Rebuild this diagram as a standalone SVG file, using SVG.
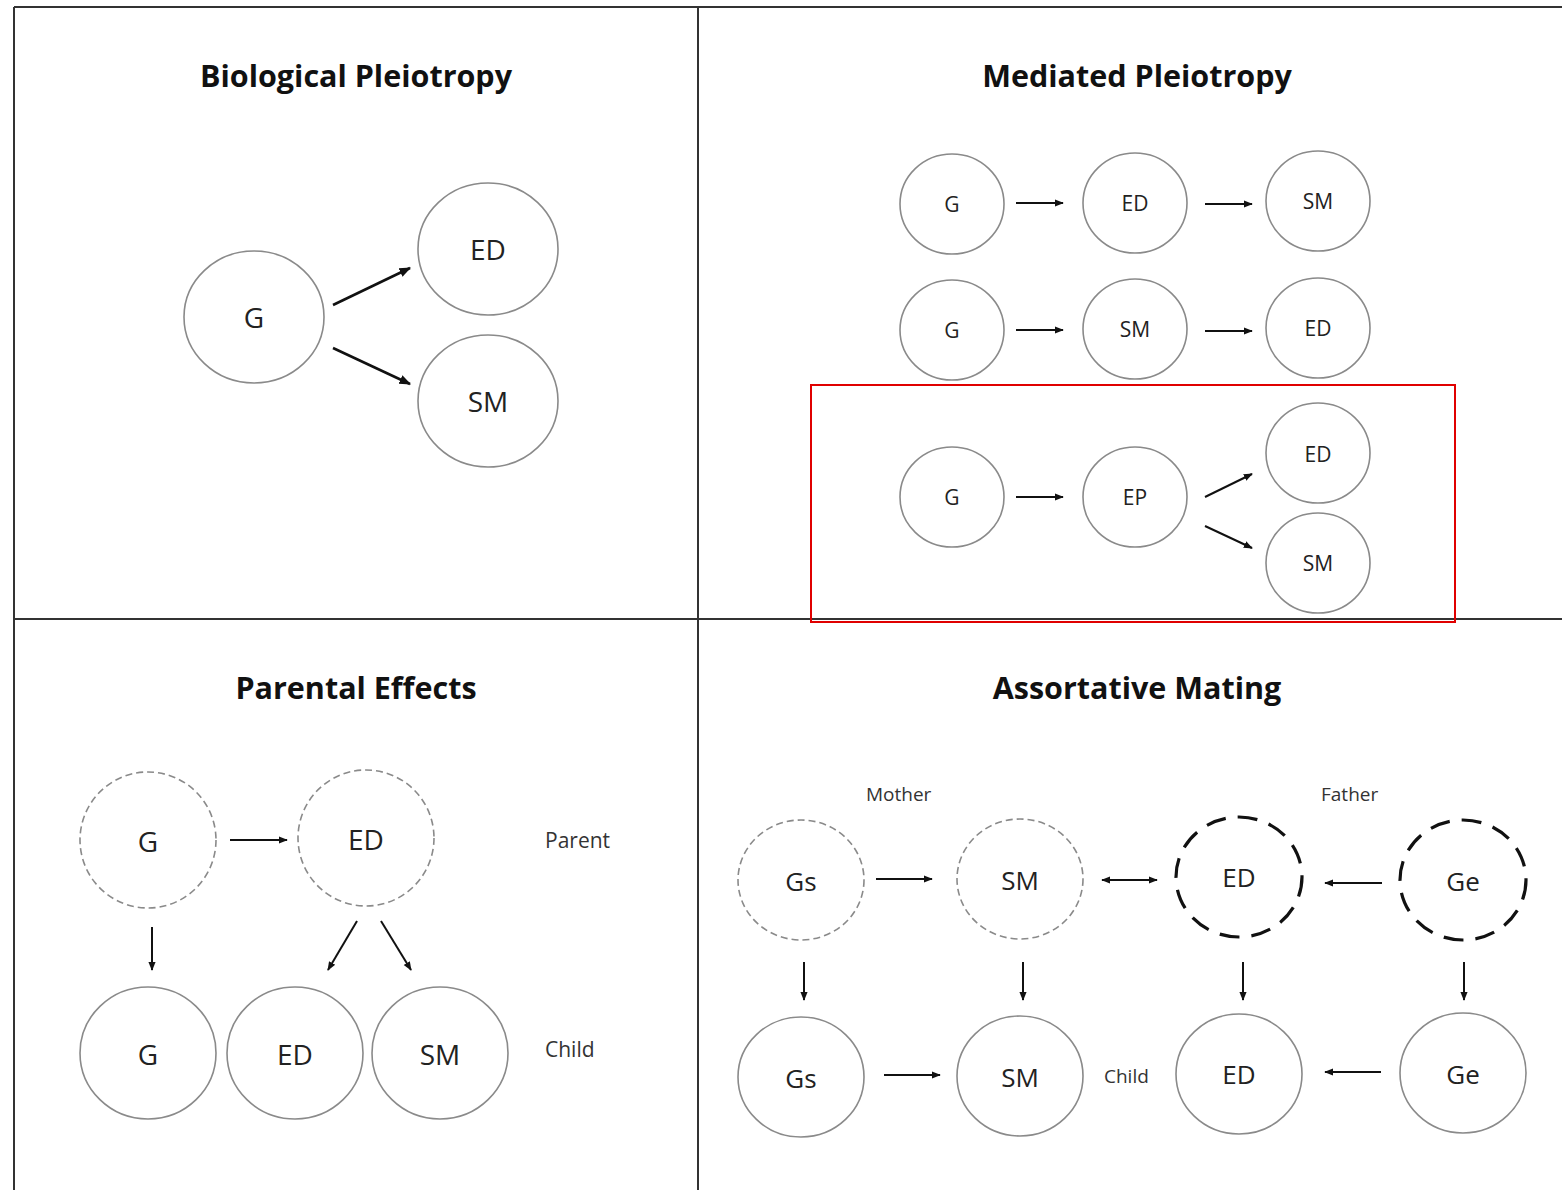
<svg xmlns="http://www.w3.org/2000/svg" width="1562" height="1190" viewBox="0 0 1562 1190">
<style>
.frame{stroke:#333;stroke-width:2;fill:none}
.n{fill:#fff;stroke:#8a8a8a;stroke-width:1.6}
.nd{fill:#fff;stroke:#8a8a8a;stroke-width:1.6;stroke-dasharray:7 4}
.nb{fill:#fff;stroke:#111;stroke-width:3.2;stroke-dasharray:20 12}
.t{font-family:"Open Sans","Liberation Sans",sans-serif;fill:#222;text-anchor:middle;dominant-baseline:central}
.title{font-family:"Open Sans","Liberation Sans",sans-serif;font-weight:bold;font-size:30.5px;fill:#111;text-anchor:middle}
.lab{font-family:"Open Sans","Liberation Sans",sans-serif;fill:#333;dominant-baseline:central}
.a{stroke:#111;stroke-width:2;fill:none;marker-end:url(#ah)}
.a3{stroke:#111;stroke-width:2.6;fill:none;marker-end:url(#ah)}
</style>
<defs>
<marker id="ah" viewBox="0 0 10 10" refX="9" refY="5" markerWidth="4.5" markerHeight="4.5" orient="auto-start-reverse" markerUnits="strokeWidth">
<path d="M0,1 L10,5 L0,9 z" fill="#111"/>
</marker>
</defs>
<rect width="1562" height="1190" fill="#fff"/>
<g id="frame">
<line class="frame" x1="14" y1="7" x2="1562" y2="7"/>
<line class="frame" x1="14" y1="7" x2="14" y2="1190"/>
<line class="frame" x1="698" y1="7" x2="698" y2="1190"/>
<line class="frame" x1="14" y1="619" x2="1562" y2="619"/>
</g>
<g id="titles">
<text class="title" x="356" y="87">Biological Pleiotropy</text>
<text class="title" x="1137" y="87">Mediated Pleiotropy</text>
<text class="title" x="356" y="699">Parental Effects</text>
<text class="title" x="1137" y="699">Assortative Mating</text>
</g>
<rect id="highlight" x="811" y="385" width="644" height="237" fill="none" stroke="#e00000" stroke-width="2"/>
<g id="p1-G"><ellipse class="n" cx="254" cy="317" rx="70" ry="66"/><text class="t" x="254" y="317" font-size="28">G</text></g>
<g id="p1-ED"><ellipse class="n" cx="488" cy="249" rx="70" ry="66"/><text class="t" x="488" y="249" font-size="28">ED</text></g>
<g id="p1-SM"><ellipse class="n" cx="488" cy="401" rx="70" ry="66"/><text class="t" x="488" y="401" font-size="28">SM</text></g>
<g id="p2-r1-G"><ellipse class="n" cx="952" cy="204" rx="52" ry="50"/><text class="t" x="952" y="204" font-size="21">G</text></g>
<g id="p2-r1-ED"><ellipse class="n" cx="1135" cy="203" rx="52" ry="50"/><text class="t" x="1135" y="203" font-size="21">ED</text></g>
<g id="p2-r1-SM"><ellipse class="n" cx="1318" cy="201" rx="52" ry="50"/><text class="t" x="1318" y="201" font-size="21">SM</text></g>
<g id="p2-r2-G"><ellipse class="n" cx="952" cy="330" rx="52" ry="50"/><text class="t" x="952" y="330" font-size="21">G</text></g>
<g id="p2-r2-SM"><ellipse class="n" cx="1135" cy="329" rx="52" ry="50"/><text class="t" x="1135" y="329" font-size="21">SM</text></g>
<g id="p2-r2-ED"><ellipse class="n" cx="1318" cy="328" rx="52" ry="50"/><text class="t" x="1318" y="328" font-size="21">ED</text></g>
<g id="p2-r3-G"><ellipse class="n" cx="952" cy="497" rx="52" ry="50"/><text class="t" x="952" y="497" font-size="21">G</text></g>
<g id="p2-r3-EP"><ellipse class="n" cx="1135" cy="497" rx="52" ry="50"/><text class="t" x="1135" y="497" font-size="21">EP</text></g>
<g id="p2-r3-ED"><ellipse class="n" cx="1318" cy="453" rx="52" ry="50"/><text class="t" x="1318" y="454" font-size="21">ED</text></g>
<g id="p2-r3-SM"><ellipse class="n" cx="1318" cy="563" rx="52" ry="50"/><text class="t" x="1318" y="563" font-size="21">SM</text></g>
<g id="p3-pG"><circle class="nd" cx="148" cy="840" r="68"/><text class="t" x="148" y="841" font-size="28">G</text></g>
<g id="p3-pED"><circle class="nd" cx="366" cy="838" r="68"/><text class="t" x="366" y="839" font-size="28">ED</text></g>
<g id="p3-cG"><ellipse class="n" cx="148" cy="1053" rx="68" ry="66"/><text class="t" x="148" y="1054" font-size="28">G</text></g>
<g id="p3-cED"><ellipse class="n" cx="295" cy="1053" rx="68" ry="66"/><text class="t" x="295" y="1054" font-size="28">ED</text></g>
<g id="p3-cSM"><ellipse class="n" cx="440" cy="1053" rx="68" ry="66"/><text class="t" x="440" y="1054" font-size="28">SM</text></g>
<g id="p3-labels">
<text class="lab" x="545" y="840" font-size="21">Parent</text>
<text class="lab" x="545" y="1049" font-size="21">Child</text>
</g>
<g id="p4-mGs"><ellipse class="nd" cx="801" cy="880" rx="63" ry="60"/><text class="t" x="801" y="881" font-size="26">Gs</text></g>
<g id="p4-mSM"><ellipse class="nd" cx="1020" cy="879" rx="63" ry="60"/><text class="t" x="1020" y="880" font-size="26">SM</text></g>
<g id="p4-fED"><ellipse class="nb" cx="1239" cy="877" rx="63" ry="60"/><text class="t" x="1239" y="877" font-size="26">ED</text></g>
<g id="p4-fGe"><ellipse class="nb" cx="1463" cy="880" rx="63" ry="60"/><text class="t" x="1463" y="881" font-size="26">Ge</text></g>
<g id="p4-cGs"><ellipse class="n" cx="801" cy="1077" rx="63" ry="60"/><text class="t" x="801" y="1078" font-size="26">Gs</text></g>
<g id="p4-cSM"><ellipse class="n" cx="1020" cy="1076" rx="63" ry="60"/><text class="t" x="1020" y="1077" font-size="26">SM</text></g>
<g id="p4-cED"><ellipse class="n" cx="1239" cy="1074" rx="63" ry="60"/><text class="t" x="1239" y="1074" font-size="26">ED</text></g>
<g id="p4-cGe"><ellipse class="n" cx="1463" cy="1073" rx="63" ry="60"/><text class="t" x="1463" y="1074" font-size="26">Ge</text></g>
<g id="p4-labels">
<text class="lab" x="866" y="794" font-size="19" fill="#555">Mother</text>
<text class="lab" x="1321" y="794" font-size="19" fill="#555">Father</text>
<text class="lab" x="1104" y="1076" font-size="19" fill="#555">Child</text>
</g>
<g id="connectors">
<line class="a3" x1="333" y1="305" x2="410" y2="268"/>
<line class="a3" x1="333" y1="348" x2="410" y2="384"/>
<line class="a" x1="1016" y1="203" x2="1063" y2="203"/>
<line class="a" x1="1205" y1="204" x2="1252" y2="204"/>
<line class="a" x1="1016" y1="330" x2="1063" y2="330"/>
<line class="a" x1="1205" y1="331" x2="1252" y2="331"/>
<line class="a" x1="1016" y1="497" x2="1063" y2="497"/>
<line class="a" x1="1205" y1="497" x2="1252" y2="474"/>
<line class="a" x1="1205" y1="526" x2="1252" y2="548"/>
<line class="a" x1="230" y1="840" x2="287" y2="840"/>
<line class="a" x1="152" y1="927" x2="152" y2="970"/>
<line class="a" x1="357" y1="921" x2="328" y2="970"/>
<line class="a" x1="381" y1="921" x2="411" y2="970"/>
<line class="a" x1="876" y1="879" x2="932" y2="879"/>
<line class="a" x1="1102" y1="880" x2="1157" y2="880" marker-start="url(#ah)"/>
<line class="a" x1="1382" y1="883" x2="1325" y2="883"/>
<line class="a" x1="804" y1="962" x2="804" y2="1000"/>
<line class="a" x1="1023" y1="962" x2="1023" y2="1000"/>
<line class="a" x1="1243" y1="962" x2="1243" y2="1000"/>
<line class="a" x1="1464" y1="962" x2="1464" y2="1000"/>
<line class="a" x1="884" y1="1075" x2="940" y2="1075"/>
<line class="a" x1="1381" y1="1072" x2="1325" y2="1072"/>
</g>
</svg>
